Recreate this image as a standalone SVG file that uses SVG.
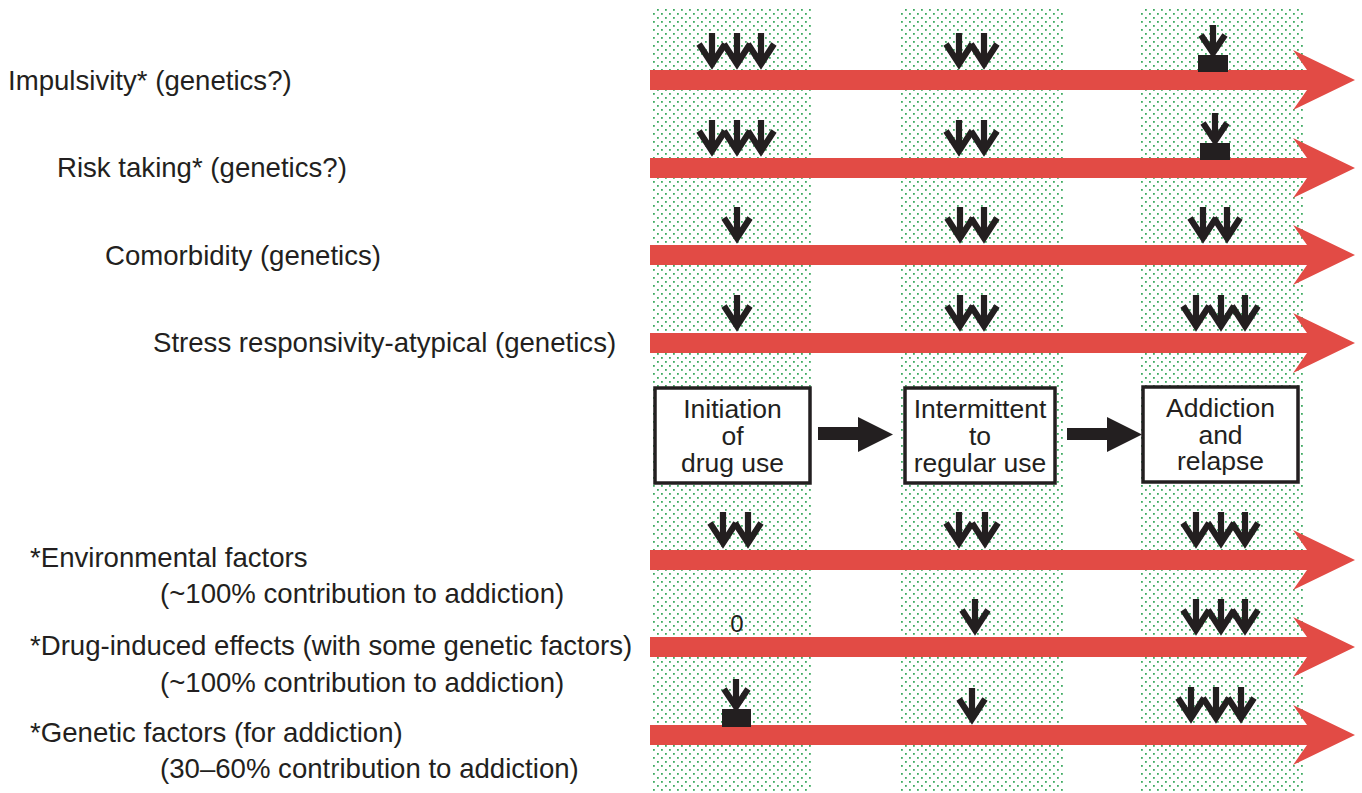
<svg xmlns="http://www.w3.org/2000/svg" xmlns:xlink="http://www.w3.org/1999/xlink" width="1362" height="793" viewBox="0 0 1362 793">
<style>
.lbl{font-family:"Liberation Sans",Arial,sans-serif;font-size:27.6px;fill:#231f20}
.box{fill:#fff;stroke:#231f20;stroke-width:3.5}
.btx{font-family:"Liberation Sans",Arial,sans-serif;font-size:26.5px;fill:#231f20;text-anchor:middle}
.zero{font-family:"Liberation Sans",Arial,sans-serif;font-size:24px;fill:#231f20;text-anchor:middle}
.bar{fill:#e24b45}
.blk{fill:#231f20}
.conn{fill:#231f20}
</style>
<defs>
<pattern id="dots" x="0" y="0" width="8" height="8" patternUnits="userSpaceOnUse">
<rect x="1" y="1" width="1.8" height="1.8" fill="#3fab62"/>
<rect x="5" y="5" width="1.8" height="1.8" fill="#3fab62"/>
</pattern>
<path id="arr" d="M0,-35 V-5 M-13,-24 L0,-4 L13,-24" fill="none" stroke="#231f20" stroke-width="6.2" stroke-linejoin="miter" stroke-miterlimit="10"/>
<path id="arrS" d="M0,-32 V-5 M-12,-22 L0,-4 L12,-22" fill="none" stroke="#231f20" stroke-width="6.2" stroke-linejoin="miter" stroke-miterlimit="10"/>
<polygon id="red" points="650,-10 1307,-10 1293,-30 1355,0 1293,30 1307,10 650,10"/>
</defs>
<rect width="1362" height="793" fill="#fff"/>
<g id="columns">
<rect x="651" y="8" width="162" height="785" fill="url(#dots)"/>
<rect x="900" y="8" width="163" height="785" fill="url(#dots)"/>
<rect x="1140" y="8" width="163" height="785" fill="url(#dots)"/>
</g>
<g id="row-impulsivity">
<text class="lbl" x="8" y="90">Impulsivity* (genetics?)</text>
<use href="#red" class="bar" transform="translate(0,80)"/>
<use href="#arr" transform="translate(712,68)"/><use href="#arr" transform="translate(737,68)"/><use href="#arr" transform="translate(761,68)"/>
<use href="#arr" transform="translate(959,68)"/><use href="#arr" transform="translate(984,68)"/>
<use href="#arrS" transform="translate(1213,57)"/><rect class="blk" x="1198" y="55" width="30" height="17"/>
</g>
<g id="row-risk">
<text class="lbl" x="57" y="177">Risk taking* (genetics?)</text>
<use href="#red" class="bar" transform="translate(0,168)"/>
<use href="#arr" transform="translate(712,155)"/><use href="#arr" transform="translate(737,155)"/><use href="#arr" transform="translate(761,155)"/>
<use href="#arr" transform="translate(959,155)"/><use href="#arr" transform="translate(984,155)"/>
<use href="#arrS" transform="translate(1215,145)"/><rect class="blk" x="1200" y="143" width="30" height="17"/>
</g>
<g id="row-comorbidity">
<text class="lbl" x="105" y="265">Comorbidity (genetics)</text>
<use href="#red" class="bar" transform="translate(0,255)"/>
<use href="#arr" transform="translate(737,242)"/>
<use href="#arr" transform="translate(960,242)"/><use href="#arr" transform="translate(984,242)"/>
<use href="#arr" transform="translate(1203,242)"/><use href="#arr" transform="translate(1227,242)"/>
</g>
<g id="row-stress">
<text class="lbl" x="153" y="352">Stress responsivity-atypical (genetics)</text>
<use href="#red" class="bar" transform="translate(0,343)"/>
<use href="#arr" transform="translate(737,330)"/>
<use href="#arr" transform="translate(960,330)"/><use href="#arr" transform="translate(984,330)"/>
<use href="#arr" transform="translate(1196,330)"/><use href="#arr" transform="translate(1221,330)"/><use href="#arr" transform="translate(1245,330)"/>
</g>
<g id="stage-initiation">
<rect class="box" x="655" y="388" width="155" height="95"/>
<text class="btx" x="732.5" y="418">Initiation</text>
<text class="btx" x="732.5" y="445">of</text>
<text class="btx" x="732.5" y="472">drug use</text>
</g>
<g id="stage-intermittent">
<rect class="box" x="905" y="388" width="150" height="95"/>
<text class="btx" x="980" y="418">Intermittent</text>
<text class="btx" x="980" y="445">to</text>
<text class="btx" x="980" y="472">regular use</text>
</g>
<g id="stage-addiction">
<rect class="box" x="1143" y="387" width="155" height="95"/>
<text class="btx" x="1220.5" y="417">Addiction</text>
<text class="btx" x="1220.5" y="444">and</text>
<text class="btx" x="1220.5" y="470">relapse</text>
</g>
<g id="connectors">
<polygon class="conn" points="818,427 858,427 858,417 893,434.5 858,452 858,440 818,440"/>
<polygon class="conn" points="1067,428 1107,428 1107,417 1142,434.5 1107,452 1107,440 1067,440"/>
</g>
<g id="row-environmental">
<text class="lbl" x="30" y="567">*Environmental factors</text>
<text class="lbl" x="160" y="603">(~100% contribution to addiction)</text>
<use href="#red" class="bar" transform="translate(0,560)"/>
<use href="#arr" transform="translate(723,547)"/><use href="#arr" transform="translate(748,547)"/>
<use href="#arr" transform="translate(959,547)"/><use href="#arr" transform="translate(985,547)"/>
<use href="#arr" transform="translate(1196,547)"/><use href="#arr" transform="translate(1221,547)"/><use href="#arr" transform="translate(1245,547)"/>
</g>
<g id="row-drug">
<text class="lbl" x="30" y="655">*Drug-induced effects (with some genetic factors)</text>
<text class="lbl" x="160" y="692">(~100% contribution to addiction)</text>
<use href="#red" class="bar" transform="translate(0,647)"/>
<text class="zero" x="737" y="632">0</text>
<use href="#arr" transform="translate(975,634)"/>
<use href="#arr" transform="translate(1196,634)"/><use href="#arr" transform="translate(1221,634)"/><use href="#arr" transform="translate(1245,634)"/>
</g>
<g id="row-genetic">
<text class="lbl" x="30" y="742">*Genetic factors (for addiction)</text>
<text class="lbl" x="160" y="778">(30–60% contribution to addiction)</text>
<use href="#red" class="bar" transform="translate(0,735)"/>
<use href="#arrS" transform="translate(736,711)"/><rect class="blk" x="722" y="709" width="29" height="18"/>
<use href="#arr" transform="translate(972,723)"/>
<use href="#arr" transform="translate(1191,722)"/><use href="#arr" transform="translate(1216,722)"/><use href="#arr" transform="translate(1241,722)"/>
</g>
</svg>
